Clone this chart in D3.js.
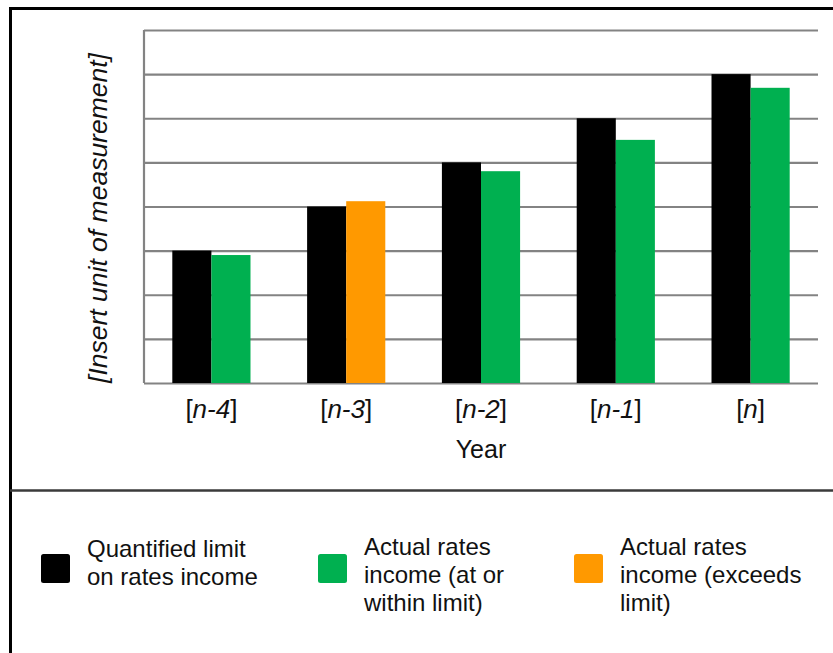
<!DOCTYPE html>
<html>
<head>
<meta charset="utf-8">
<script src="https://cdn.jsdelivr.net/npm/d3@7"></script>
<style>
  html, body { margin: 0; padding: 0; background: #fff; }
  svg { display: block; font-family: "Liberation Sans", Arial, sans-serif; }
</style>
</head>
<body>
<svg id="chart" width="833" height="653"></svg>
<script>
// ---- data ----
const years = ["n-4", "n-3", "n-2", "n-1", "n"];
const limitValues = [3, 4, 5, 6, 7];
const actualValues = [2.9, 4.12, 4.8, 5.51, 6.69];
const yTicks = [0, 1, 2, 3, 4, 5, 6, 7, 8];
const seriesNames = ["Quantified limit on rates income", "Actual rates income (at or within limit)", "Actual rates income (exceeds limit)"];
const legendLines = [
  ["Quantified limit", "on rates income"],
  ["Actual rates", "income (at or", "within limit)"],
  ["Actual rates", "income (exceeds", "limit)"]
];
const yAxisTitle = "[Insert unit of measurement]";
const xAxisTitle = "Year";

// ---- styles ----
const colors = { limit: "#000000", within: "#00B050", exceeds: "#FF9900" };
const gridColor = "#838383";

const svg = d3.select("#chart");

// outer frame & divider
svg.append("rect")
  .attr("x", 10.5).attr("y", 8.5).attr("width", 900).attr("height", 700)
  .attr("fill", "none").attr("stroke", "#000").attr("stroke-width", 3);
svg.append("line")
  .attr("x1", 10).attr("x2", 833).attr("y1", 490.5).attr("y2", 490.5)
  .attr("stroke", "#3a3a3a").attr("stroke-width", 2.5);

// plot area
const plot = { left: 144, right: 818, top: 30, bottom: 383 };

const x0 = d3.scaleBand()
  .domain(years)
  .range([plot.left, plot.right])
  .paddingInner(0.42)
  .paddingOuter(0.21);
const x1 = d3.scaleBand()
  .domain(["limit", "actual"])
  .range([0, x0.bandwidth()]);
const y = d3.scaleLinear().domain([0, 8]).range([plot.bottom, plot.top]);

// gridlines (y axis with full-width ticks)
const yAxis = svg.append("g")
  .attr("transform", `translate(${plot.left},0)`)
  .call(d3.axisLeft(y).tickValues(yTicks).tickSize(-(plot.right - plot.left)).tickFormat(""));
yAxis.selectAll(".tick line").attr("stroke", gridColor).attr("stroke-width", 2.2);
yAxis.select(".domain").remove();
svg.append("line")
  .attr("x1", plot.left).attr("x2", plot.left)
  .attr("y1", y(8)).attr("y2", y(0))
  .attr("stroke", gridColor).attr("stroke-width", 2.2);

// bars
const rows = years.map((yr, i) => ({ year: yr, limit: limitValues[i], actual: actualValues[i] }));
const groups = svg.append("g").selectAll("g").data(rows).join("g")
  .attr("transform", d => `translate(${x0(d.year)},0)`);
groups.append("rect")
  .attr("x", x1("limit")).attr("width", x1.bandwidth())
  .attr("y", d => y(d.limit)).attr("height", d => y(0) - y(d.limit))
  .attr("fill", colors.limit);
groups.append("rect")
  .attr("x", x1("actual")).attr("width", x1.bandwidth())
  .attr("y", d => y(d.actual)).attr("height", d => y(0) - y(d.actual))
  .attr("fill", d => d.actual > d.limit ? colors.exceeds : colors.within);

// x tick labels
const xt = svg.append("g").selectAll("text").data(years).join("text")
  .attr("x", d => x0(d) + x0.bandwidth() / 2)
  .attr("y", 418)
  .attr("text-anchor", "middle")
  .attr("font-size", 26)
  .attr("fill", "#111");
xt.append("tspan").text("[");
xt.append("tspan").attr("font-style", "italic").text(d => d);
xt.append("tspan").text("]");

// x axis title
svg.append("text")
  .attr("x", (plot.left + plot.right) / 2).attr("y", 458)
  .attr("text-anchor", "middle").attr("font-size", 25).attr("fill", "#111")
  .text(xAxisTitle);

// y axis title
svg.append("text")
  .attr("transform", `translate(107,218) rotate(-90)`)
  .attr("text-anchor", "middle").attr("font-size", 26.5)
  .attr("font-style", "italic").attr("fill", "#111")
  .text(yAxisTitle);

// legend
const legendColors = [colors.limit, colors.within, colors.exceeds];
const legendX = [41, 318, 574];
const legend = svg.append("g").selectAll("g").data(legendLines).join("g")
  .attr("transform", (d, i) => `translate(${legendX[i]},554)`);
legend.append("rect")
  .attr("width", 29).attr("height", 29).attr("rx", 2.5)
  .attr("fill", (d, i) => legendColors[i]);
legend.append("title").text((d, i) => seriesNames[i]);
legend.append("text")
  .attr("x", 46).attr("font-size", 24).attr("fill", "#111")
  .selectAll("tspan").data(d => d).join("tspan")
  .attr("x", 46)
  .attr("y", (d, j, nodes) => (nodes.length === 2 ? 3 : 1) + j * 28)
  .text(d => d);
</script>
</body>
</html>
